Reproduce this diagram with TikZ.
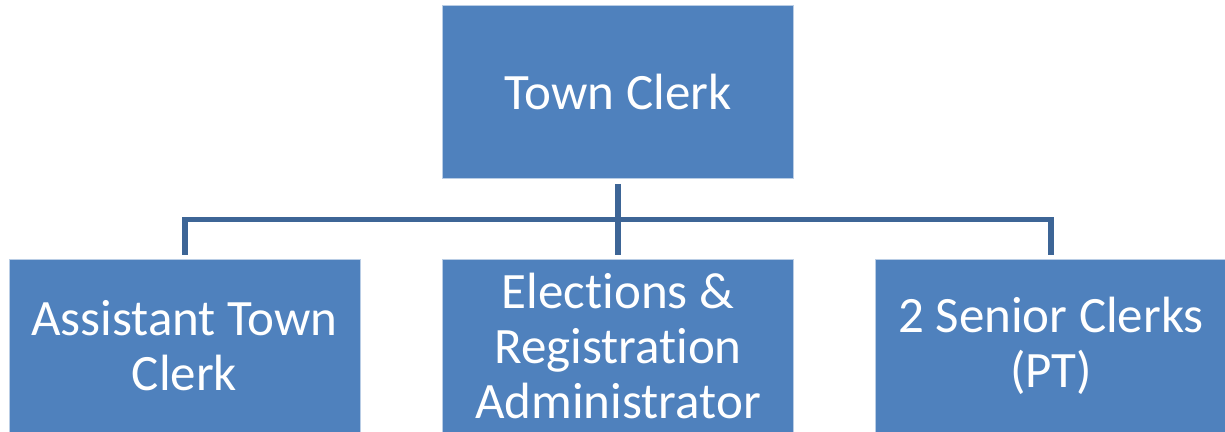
\documentclass[tikz,border=0pt]{standalone}
\usepackage{fontspec}
\setmainfont[Ligatures=NoCommon]{Carlito}
\definecolor{boxblue}{HTML}{4F81BD}
\definecolor{linkblue}{HTML}{3D6596}
\begin{document}
\begin{tikzpicture}[x=1pt,y=-1pt,
  orgbox/.style={fill=boxblue, draw=boxblue!40!white, line width=0.8pt,
    minimum width=351pt, minimum height=173pt, inner sep=0pt,
    align=center, text=white, font=\fontsize{51}{55}\selectfont},
  link/.style={draw=linkblue, line width=5.5pt}]
  \useasboundingbox (0,0) rectangle (1225,431);
  \node[orgbox] (top) at (618,92) {Town Clerk};
  \node[orgbox] (left) at (184.5,345.5) {Assistant Town\\Clerk};
  \node[orgbox] (mid) at (618,345.5) {Elections \&\\Registration\\Administrator};
  \node[orgbox] (right) at (1051,345.5) {2 Senior Clerks\\(PT)};
  \coordinate (bus) at (618,219.5);
  \draw[link] ([yshift=-5pt]top.south) -- ([yshift=4pt]mid.north);
  \draw[link] ([yshift=4pt]left.north -| 185,0) |- (bus) -| ([yshift=4pt]right.north);
\end{tikzpicture}
\end{document}
